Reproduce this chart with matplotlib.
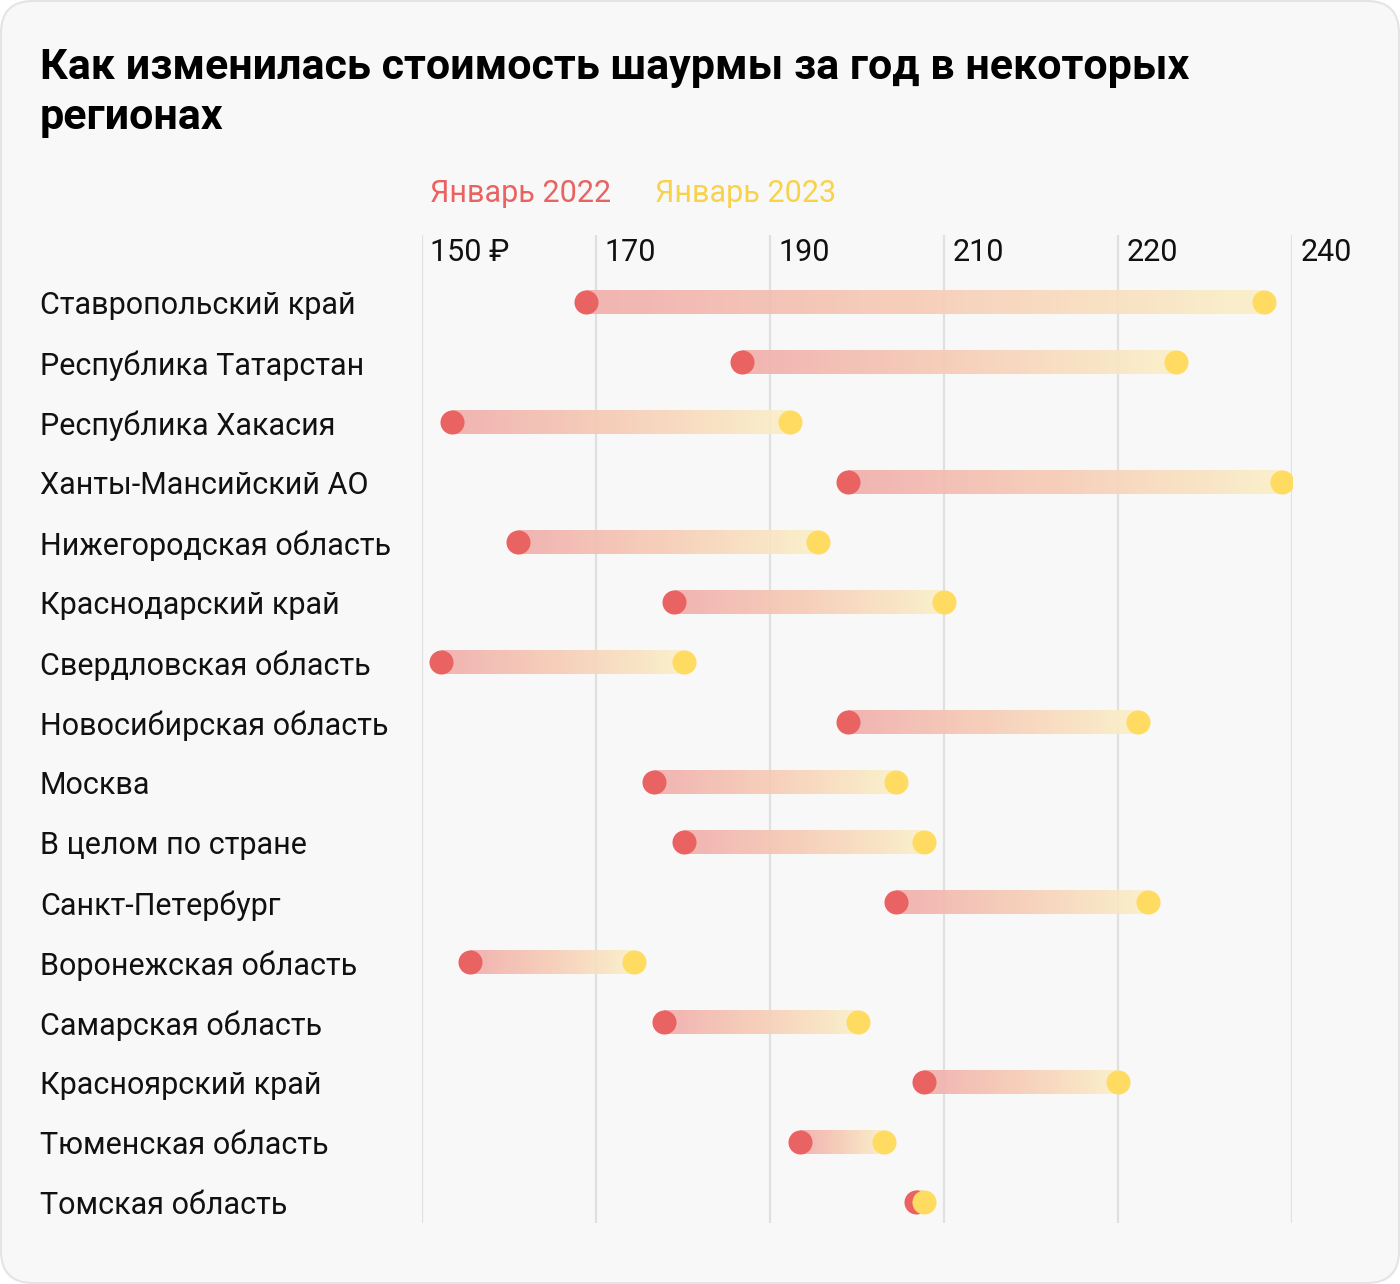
import numpy as np
import matplotlib
matplotlib.use("Agg")
import matplotlib.pyplot as plt
from matplotlib.colors import LinearSegmentedColormap
from matplotlib.patches import FancyBboxPatch
from matplotlib.transforms import blended_transform_factory

plt.rcParams['font.family'] = ['Roboto', 'DejaVu Sans']

regions = [
    "Ставропольский край", "Республика Татарстан", "Республика Хакасия",
    "Ханты-Мансийский АО", "Нижегородская область", "Краснодарский край",
    "Свердловская область", "Новосибирская область", "Москва",
    "В целом по стране", "Санкт-Петербург", "Воронежская область",
    "Самарская область", "Красноярский край", "Тюменская область",
    "Томская область",
]
jan_2022 = [168.9, 186.8, 153.4, 199.0, 161.0, 179.0, 152.2, 199.0,
            176.7, 180.1, 204.5, 155.5, 177.8, 207.7, 193.4, 206.8]
jan_2023 = [246.8, 236.7, 192.3, 248.9, 195.5, 210.0, 180.1, 232.3,
            204.5, 207.7, 233.4, 174.4, 200.1, 230.0, 203.1, 207.7]
tick_pos = [150, 170, 190, 210, 230, 250]
tick_labels = ["150 ₽", "170", "190", "210", "220", "240"]

RED = "#ea6363"
YELLOW = "#ffdb62"
W, H = 1400, 1284

fig = plt.figure(figsize=(W / 100, H / 100), dpi=100, facecolor="white")

# карточка
card = FancyBboxPatch((0.01, 0.01), W / 100 - 0.02, H / 100 - 0.02,
                      boxstyle="round,pad=0,rounding_size=0.32",
                      transform=fig.dpi_scale_trans, facecolor="#f8f8f8",
                      edgecolor="#e4e4e4", linewidth=1.5, zorder=-5)
fig.patches.append(card)

fig.text(40 / W, 1 - 67 / H, "Как изменилась стоимость шаурмы за год в некоторых",
         fontsize=31, fontweight="bold", va="center", ha="left")
fig.text(40 / W, 1 - 118 / H, "регионах",
         fontsize=31, fontweight="bold", va="center", ha="left")
fig.text(430 / W, 1 - 193 / H, "Январь 2022", color=RED, fontsize=22,
         va="center", ha="left")
fig.text(655 / W, 1 - 193 / H, "Январь 2023", color="#f8d24a", fontsize=22,
         va="center", ha="left")

top_px, bot_px = 235, 1223
ax = fig.add_axes([422 / W, 1 - bot_px / H, 870 / W, (bot_px - top_px) / H])
ax.set_facecolor("none")
ax.set_xlim(150, 250)
ax.set_ylim((bot_px - 302) / 60, -(302 - top_px) / 60)
ax.axis("off")

for t, lbl in zip(tick_pos, tick_labels):
    ax.axvline(t, color="#e0e0e0", lw=1.6, zorder=1)
    ax.annotate(lbl, xy=(t, 1), xycoords=("data", "axes fraction"),
                xytext=(6, -2.5), textcoords="offset points",
                ha="left", va="top", fontsize=22, color="#111111")

cmap = LinearSegmentedColormap.from_list("bar", ["#f1aeac", "#f6cdb6", "#fbf0c8"])
grad = np.linspace(0, 1, 256).reshape(1, -1)
bh = 0.2
for i, (a, b) in enumerate(zip(jan_2022, jan_2023)):
    ax.imshow(grad, cmap=cmap, extent=[a, b, i + bh, i - bh], aspect="auto",
              alpha=0.92, zorder=2, interpolation="bilinear")

ys = np.arange(len(regions))
ax.scatter(jan_2022, ys, s=300, color=RED, zorder=3, linewidths=0)
ax.scatter(jan_2023, ys, s=300, color=YELLOW, zorder=4, linewidths=0)
ax.set_xlim(150, 250)
ax.set_ylim((bot_px - 302) / 60, -(302 - top_px) / 60)

tr = blended_transform_factory(fig.transFigure, ax.transData)
for i, name in enumerate(regions):
    ax.text(40 / W, i + 0.055, name, transform=tr, fontsize=22, va="center",
            ha="left", color="#111111")

fig.savefig("out.png", dpi=100, facecolor="white")
